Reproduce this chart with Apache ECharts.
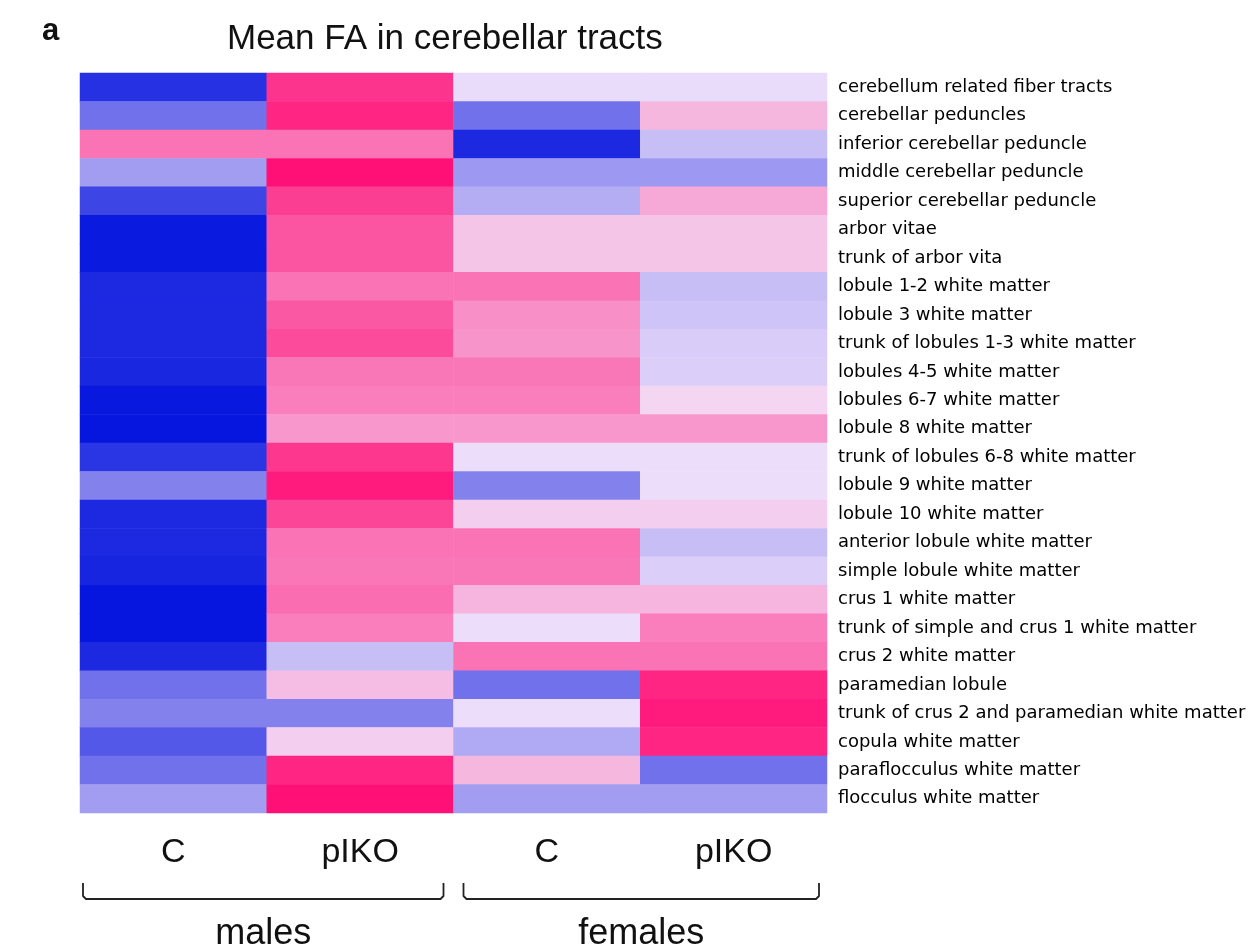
<!DOCTYPE html>
<html>
<head>
<meta charset="utf-8">
<script src="https://cdn.jsdelivr.net/npm/echarts@6/dist/echarts.min.js"></script>
<style>html,body{margin:0;padding:0;background:#fff}#c{width:1254px;height:950px}</style>
</head>
<body>
<div id="c"></div>
<script>
var columns = ['C', 'pIKO', 'C ', 'pIKO '];
var groups = ['males', 'females'];
var tracts = [
  'cerebellum related fiber tracts',
  'cerebellar peduncles',
  'inferior cerebellar peduncle',
  'middle cerebellar peduncle',
  'superior cerebellar peduncle',
  'arbor vitae',
  'trunk of arbor vita',
  'lobule 1-2 white matter',
  'lobule 3 white matter',
  'trunk of lobules 1-3 white matter',
  'lobules 4-5 white matter',
  'lobules 6-7 white matter',
  'lobule 8 white matter',
  'trunk of lobules 6-8 white matter',
  'lobule 9 white matter',
  'lobule 10 white matter',
  'anterior lobule white matter',
  'simple lobule white matter',
  'crus 1 white matter',
  'trunk of simple and crus 1 white matter',
  'crus 2 white matter',
  'paramedian lobule',
  'trunk of crus 2 and paramedian white matter',
  'copula white matter',
  'paraflocculus white matter',
  'flocculus white matter'
];
var malesC      = [-0.86,-0.55, 0.53,-0.34,-0.76,-0.97,-0.97,-0.90,-0.90,-0.90,-0.91,-0.98,-0.99,-0.84,-0.47,-0.90,-0.90,-0.92,-0.99,-0.99,-0.90,-0.55,-0.47,-0.67,-0.55,-0.34];
var malesPIKO   = [ 0.83, 0.90, 0.53, 1.00, 0.78, 0.68, 0.68, 0.53, 0.66, 0.72, 0.51, 0.48, 0.36, 0.82, 0.95, 0.75, 0.53, 0.51, 0.56, 0.48,-0.18, 0.18,-0.47, 0.10, 0.90, 1.00];
var femalesC    = [-0.04,-0.55,-0.90,-0.36,-0.26, 0.14, 0.14, 0.53, 0.40, 0.37, 0.51, 0.48, 0.36,-0.03,-0.47, 0.10, 0.53, 0.51, 0.22,-0.03, 0.53,-0.55,-0.03,-0.28, 0.21,-0.34];
var femalesPIKO = [-0.04, 0.21,-0.18,-0.36, 0.28, 0.14, 0.14,-0.18,-0.15,-0.11,-0.10, 0.06, 0.36,-0.03,-0.03, 0.10,-0.18,-0.10, 0.22, 0.48, 0.53, 0.90, 0.95, 0.90,-0.55,-0.34];

var cols = [malesC, malesPIKO, femalesC, femalesPIKO];
var data = [];
cols.forEach(function (arr, ci) {
  arr.forEach(function (v, ri) { data.push([ci, ri, v]); });
});

var chart = echarts.init(document.getElementById('c'), null, {renderer: 'canvas'});
var option = {
  animation: false,
  backgroundColor: '#ffffff',
  title: {
    text: 'Mean FA in cerebellar tracts',
    left: 222, top: 17,
    textStyle: {fontFamily: 'Liberation Sans, Arial, sans-serif', fontSize: 35, fontWeight: 'normal', color: '#111'}
  },
  grid: {left: 80, top: 73, width: 747, height: 740},
  xAxis: {
    type: 'category', data: columns,
    axisLine: {show: false}, axisTick: {show: false}, splitLine: {show: false},
    axisLabel: {fontFamily: 'Liberation Sans, Arial, sans-serif', fontSize: 34, color: '#111', margin: 23,
      formatter: function (v) { return v.trim(); }}
  },
  yAxis: {
    type: 'category', data: tracts, inverse: true, position: 'right',
    axisLine: {show: false}, axisTick: {show: false}, splitLine: {show: false},
    axisLabel: {fontFamily: 'DejaVu Sans, sans-serif', fontSize: 18, color: '#000', margin: 11}
  },
  visualMap: {
    show: false, type: 'continuous', min: -1, max: 1, dimension: 2,
    inRange: {color: ['#0414de', '#f3e3fb', '#ff1076']}
  },
  series: [{
    type: 'heatmap', data: data,
    itemStyle: {borderWidth: 0},
    emphasis: {disabled: true}
  }]
};
chart.setOption(option);

var c0 = chart.convertToPixel({xAxisIndex: 0}, columns[0]);
var c1 = chart.convertToPixel({xAxisIndex: 0}, columns[1]);
var c2 = chart.convertToPixel({xAxisIndex: 0}, columns[2]);
var c3 = chart.convertToPixel({xAxisIndex: 0}, columns[3]);
var band = c1 - c0;
function bracket(x1, x2) {
  var yt = 883, yb = 899;
  return {
    type: 'polyline',
    shape: {points: [[x1, yt], [x1, yb - 3], [x1 + 3, yb], [x2 - 3, yb], [x2, yb - 3], [x2, yt]]},
    style: {stroke: '#222', lineWidth: 1.8, fill: null, lineJoin: 'round'}
  };
}
var m1 = c0 - band / 2 + 3, m2 = c1 + band / 2 - 10;
var f1 = c2 - band / 2 + 10, f2 = c3 + band / 2 - 8;
chart.setOption({
  graphic: [
    {type: 'text', left: 42, top: 16, style: {text: 'a', font: 'bold 31px Liberation Sans, Arial, sans-serif', fill: '#111'}},
    bracket(m1, m2),
    bracket(f1, f2),
    {type: 'text', x: (m1 + m2) / 2, y: 934, style: {text: groups[0], font: '36px Liberation Sans, Arial, sans-serif', fill: '#111', textAlign: 'center', textVerticalAlign: 'middle'}},
    {type: 'text', x: (f1 + f2) / 2, y: 934, style: {text: groups[1], font: '36px Liberation Sans, Arial, sans-serif', fill: '#111', textAlign: 'center', textVerticalAlign: 'middle'}}
  ]
});
</script>
</body>
</html>
